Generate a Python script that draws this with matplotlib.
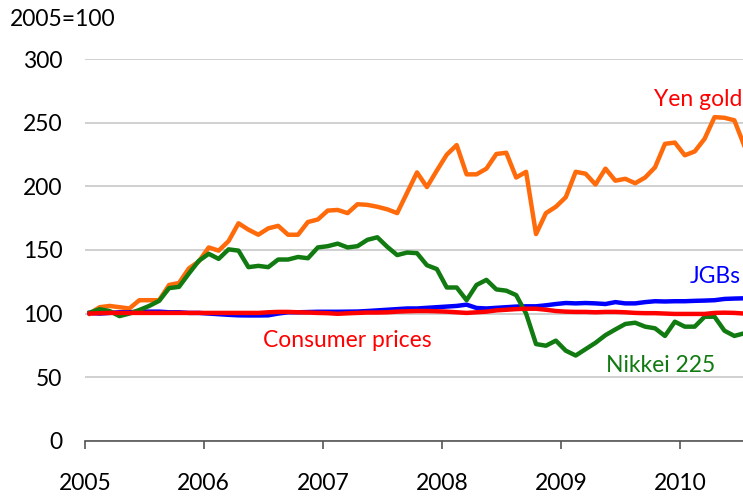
import numpy as np
import matplotlib
matplotlib.use('Agg')
import matplotlib.pyplot as plt

# monthly index values, Jan 2005 .. Jul 2010 (2005=100)
years = ['2005', '2006', '2007', '2008', '2009', '2010']

yen_gold = [100, 105, 106, 105, 104, 110.5, 110.5, 110.5, 122.5, 124, 135.5, 141,
            152, 149.5, 157, 171, 166, 162, 167, 169, 162, 162, 172, 174,
            181, 181.5, 179, 186, 185.5, 184, 182, 179, 195, 211, 199.5, 212.5,
            225, 232.5, 209.5, 209.5, 214, 225.5, 226.5, 207, 211.5, 162.5, 179, 184,
            191.5, 211.5, 210, 201.5, 214, 204.5, 206, 202.5, 207, 215, 233.5, 234.5,
            224.5, 227.5, 237.5, 254.5, 254, 252, 232]

nikkei = [100.7, 103.4, 102, 98, 100, 102.8, 106, 110, 120, 121, 131.5, 141.5,
          147, 143, 150.5, 149.5, 136.5, 137.5, 136.5, 142.5, 142.5, 144.5, 143.5, 152,
          153, 155, 152, 153, 158, 160, 152.5, 146, 148, 147.5, 138, 135,
          120.5, 120.5, 110.5, 122.5, 126.5, 119, 118, 114.5, 100, 76, 74.7, 78.7,
          70.8, 67, 72, 77, 83, 87.5, 91.8, 92.8, 89.7, 88.4, 82.4, 93.6,
          89.7, 89.7, 97.5, 97.5, 86.5, 82.4, 84.5]

jgbs = [100.5, 100, 100.5, 101, 101, 101.5, 101.5, 101.5, 101, 101, 100.5, 100.5,
        100, 99.5, 99, 98.6, 98.5, 98.5, 98.6, 100, 101, 101, 101.2, 101.4,
        101.4, 101.4, 101.5, 101.6, 102, 102.5, 103, 103.5, 104, 104, 104.5, 105,
        105.5, 106, 107, 104.4, 104, 104.5, 105, 105.5, 105.7, 105.7, 106.5, 107.5,
        108.3, 108, 108.3, 108, 107.5, 109, 108, 108, 109, 109.7, 109.5, 109.7,
        109.7, 110, 110.2, 110.5, 111.5, 111.8, 112]

cpi = [100, 100.3, 100.5, 100.5, 100.5, 100.5, 100.5, 100.5, 100.5, 100.5, 100.5, 100.5,
       100.5, 100.5, 100.5, 100.5, 100.5, 100.5, 101, 101.3, 101.3, 101, 100.8, 100.5,
       100.3, 99.8, 100.2, 100.5, 100.8, 100.8, 101, 101.5, 101.8, 102, 102, 101.8,
       101.5, 101, 100.5, 101, 101.5, 102.5, 103, 103.5, 103.8, 103.8, 103, 102,
       101.5, 101.3, 101.3, 101, 101.3, 101.3, 101, 100.5, 100.3, 100.3, 100, 99.7,
       99.7, 99.7, 99.7, 100.5, 100.7, 100.5, 100]

plt.rcParams['font.family'] = ['Lato', 'DejaVu Sans']
plt.rcParams['font.size'] = 16.5

fig = plt.figure(figsize=(7.43, 4.97), dpi=100)
ax = fig.add_axes([0.1141, 0.1133, 0.8943, 0.7674])

x = np.arange(len(yen_gold))
ax.plot(x, yen_gold, color='#FF6A0A', lw=3.2, zorder=3)
ax.plot(x, jgbs, color='#0000FF', lw=3.2, zorder=4)
ax.plot(x, nikkei, color='#117A11', lw=3.2, zorder=5)
ax.plot(x, cpi, color='#FF0000', lw=3.2, zorder=6)

ax.set_xlim(-0.5, 66.5)
ax.set_ylim(0, 300)
ax.set_yticks(range(0, 301, 50))
ax.yaxis.grid(True, color='#C8C8C8', lw=1.2)
ax.set_axisbelow(True)
ax.tick_params(axis='y', length=0, pad=16)

ax.set_xticks([-0.5 + 12 * k for k in range(len(years))])
ax.set_xticklabels(years)
ax.tick_params(axis='x', length=6, width=1.2, color='#555555', pad=17, direction='out')

for s in ['left', 'right', 'top']:
    ax.spines[s].set_visible(False)
ax.spines['bottom'].set_color('#555555')
ax.spines['bottom'].set_linewidth(1.2)

ax.text(65.8, 268, 'Yen gold', color='#FF0000', ha='right', va='center')
ax.text(65.6, 129, 'JGBs', color='#0000FF', ha='right', va='center')
ax.text(26, 79, 'Consumer prices', color='#FF0000', ha='center', va='center')
ax.text(57.6, 59, 'Nikkei 225', color='#117A11', ha='center', va='center')

fig.text(10 / 743, 1 - 20 / 497, '2005=100', ha='left', va='center')

fig.savefig('out.png', dpi=100)
